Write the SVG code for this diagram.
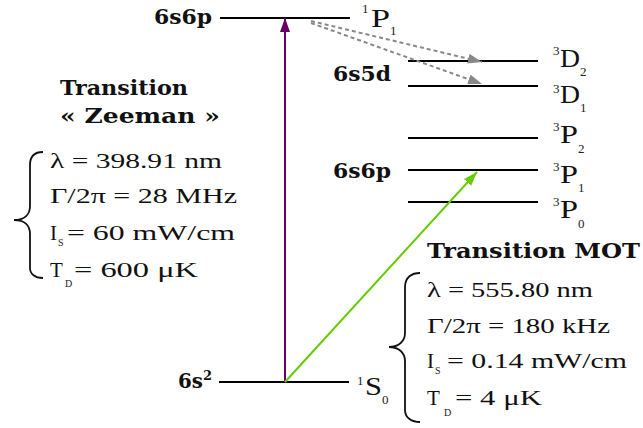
<svg xmlns="http://www.w3.org/2000/svg" width="643" height="428" viewBox="0 0 643 428">
<style>
.lvl{stroke:#000;stroke-width:2;fill:none}
.b{font-family:"DejaVu Serif","Liberation Serif",serif;font-weight:bold;font-size:21px;fill:#111}
.t{font-family:"Liberation Serif","DejaVu Serif",serif;font-size:21px;fill:#111}
.L{font-family:"Liberation Serif","DejaVu Serif",serif;font-size:26px;fill:#111}
.s{font-family:"Liberation Serif","DejaVu Serif",serif;font-size:13px;fill:#222}
.brace{stroke:#111;stroke-width:1.8;fill:none}
</style>
<defs>
<marker id="mP" markerUnits="userSpaceOnUse" markerWidth="16" markerHeight="12" refX="14" refY="5" orient="auto"><path d="M0,0 L14,5 L0,10 Z" fill="#660066"/></marker>
<marker id="mG" markerUnits="userSpaceOnUse" markerWidth="16" markerHeight="12" refX="14" refY="5" orient="auto"><path d="M0,0 L14,5 L0,10 Z" fill="#66cc00"/></marker>
<marker id="mD" markerUnits="userSpaceOnUse" markerWidth="16" markerHeight="12" refX="14" refY="5" orient="auto"><path d="M0,0 L14,5 L0,10 Z" fill="#888"/></marker>
</defs>
<rect width="643" height="428" fill="#fff"/>

<g id="level-1P1">
<line class="lvl" x1="220" y1="18" x2="350" y2="18"/>
<text class="b" x="154" y="24" textLength="58" lengthAdjust="spacingAndGlyphs">6s6p</text>
<text class="s" x="362" y="13">1</text>
<text class="L" x="371" y="27" textLength="19" lengthAdjust="spacingAndGlyphs">P</text>
<text class="s" x="390" y="35">1</text>
</g>

<g id="level-3D2">
<line class="lvl" x1="408" y1="61" x2="538" y2="61"/>
<text class="s" x="553" y="55">3</text>
<text class="L" x="560" y="67" textLength="20" lengthAdjust="spacingAndGlyphs">D</text>
<text class="s" x="580" y="76">2</text>
</g>
<g id="level-3D1">
<line class="lvl" x1="408" y1="86" x2="538" y2="86"/>
<text class="b" x="333" y="81" textLength="58" lengthAdjust="spacingAndGlyphs">6s5d</text>
<text class="s" x="553" y="93">3</text>
<text class="L" x="560" y="103" textLength="20" lengthAdjust="spacingAndGlyphs">D</text>
<text class="s" x="580" y="112">1</text>
</g>
<g id="level-3P2">
<line class="lvl" x1="408" y1="138" x2="538" y2="138"/>
<text class="s" x="553" y="131">3</text>
<text class="L" x="560" y="143" textLength="18" lengthAdjust="spacingAndGlyphs">P</text>
<text class="s" x="578" y="153">2</text>
</g>
<g id="level-3P1">
<line class="lvl" x1="408" y1="170" x2="538" y2="170"/>
<text class="b" x="333" y="178" textLength="58" lengthAdjust="spacingAndGlyphs">6s6p</text>
<text class="s" x="553" y="171">3</text>
<text class="L" x="560" y="183" textLength="18" lengthAdjust="spacingAndGlyphs">P</text>
<text class="s" x="578" y="192">1</text>
</g>
<g id="level-3P0">
<line class="lvl" x1="408" y1="202" x2="538" y2="202"/>
<text class="s" x="553" y="206">3</text>
<text class="L" x="560" y="218" textLength="18" lengthAdjust="spacingAndGlyphs">P</text>
<text class="s" x="578" y="228">0</text>
</g>
<g id="level-1S0">
<line class="lvl" x1="219" y1="382" x2="349" y2="382"/>
<text class="b" x="178" y="388" textLength="25" lengthAdjust="spacingAndGlyphs">6s</text>
<text class="b" x="203" y="380" style="font-size:13px">2</text>
<text class="s" x="357" y="385">1</text>
<text class="L" x="365" y="395" textLength="17" lengthAdjust="spacingAndGlyphs">S</text>
<text class="s" x="382" y="404">0</text>
</g>

<g id="connectors">
<line x1="285" y1="382" x2="285" y2="18" stroke="#660066" stroke-width="2" marker-end="url(#mP)"/>
<line x1="285" y1="382" x2="477" y2="172" stroke="#66cc00" stroke-width="2" marker-end="url(#mG)"/>
<line x1="311" y1="21" x2="482" y2="62" stroke="#888" stroke-width="2" stroke-dasharray="4 3" marker-end="url(#mD)"/>
<line x1="311" y1="23" x2="482" y2="84" stroke="#888" stroke-width="2" stroke-dasharray="4 3" marker-end="url(#mD)"/>
</g>

<g id="zeeman-info">
<text class="b" x="60" y="95" textLength="128" lengthAdjust="spacingAndGlyphs">Transition</text>
<text class="b" x="60" y="123" textLength="160" lengthAdjust="spacingAndGlyphs">«  Zeeman  »</text>
<path class="brace" d="M43,152 C35,152 30,156 30,165 L30,206 C30,214 25,220 14,220 C25,220 30,226 30,234 L30,268 C30,274 35,278 43,278"/>
<text class="t" x="50" y="168" textLength="172" lengthAdjust="spacingAndGlyphs">λ = 398.91 nm</text>
<text class="t" x="50" y="203" textLength="187" lengthAdjust="spacingAndGlyphs">Γ/2π = 28 MHz</text>
<text class="t" x="50" y="240">I</text>
<text class="s" x="58" y="246" style="font-size:10px">S</text>
<text class="t" x="67" y="240" textLength="168" lengthAdjust="spacingAndGlyphs">= 60 mW/cm</text>
<text class="t" x="50" y="277">T</text>
<text class="s" x="65" y="287" style="font-size:10px">D</text>
<text class="t" x="74" y="277" textLength="124" lengthAdjust="spacingAndGlyphs">= 600 μK</text>
</g>

<g id="mot-info">
<text class="b" x="427" y="258" textLength="213" lengthAdjust="spacingAndGlyphs">Transition MOT</text>
<path class="brace" d="M420,273 C412,273 405,277 405,287 L405,333 C405,341 399,347 389,347 C399,347 405,353 405,361 L405,410 C405,418 412,422 420,422"/>
<text class="t" x="427" y="297" textLength="166" lengthAdjust="spacingAndGlyphs">λ = 555.80 nm</text>
<text class="t" x="427" y="333" textLength="183" lengthAdjust="spacingAndGlyphs">Γ/2π = 180 kHz</text>
<text class="t" x="427" y="368">I</text>
<text class="s" x="435" y="374" style="font-size:10px">S</text>
<text class="t" x="447" y="368" textLength="180" lengthAdjust="spacingAndGlyphs">= 0.14 mW/cm</text>
<text class="t" x="427" y="405">T</text>
<text class="s" x="444" y="416" style="font-size:10px">D</text>
<text class="t" x="455" y="405" textLength="87" lengthAdjust="spacingAndGlyphs">= 4 μK</text>
</g>
</svg>
